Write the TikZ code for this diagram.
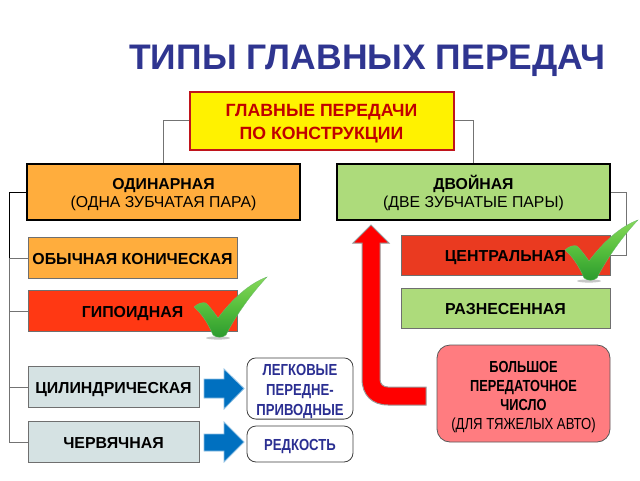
\documentclass[tikz,border=0pt]{standalone}
\usepackage{fontspec}
\setmainfont{Liberation Sans}
\usetikzlibrary{calc}
\definecolor{titleblue}{HTML}{2F3590}
\definecolor{topred}{HTML}{C00000}
\definecolor{topborder}{HTML}{C0141C}
\definecolor{orangeA}{HTML}{FFAD3D}
\definecolor{redA}{HTML}{FF3813}
\definecolor{redB}{HTML}{EA3A20}
\definecolor{greenA}{HTML}{ADDB7B}
\definecolor{steelA}{HTML}{D5E2E3}
\definecolor{pinkA}{HTML}{FF7C80}
\definecolor{navyA}{HTML}{2B2F92}
\definecolor{blueA}{HTML}{0070C0}
\definecolor{edgeA}{HTML}{6F6F6F}
\definecolor{chkTop}{HTML}{86D85A}
\definecolor{chkMid}{HTML}{55BE3C}
\definecolor{chkBot}{HTML}{2B9A2E}
\newcommand{\cnd}[2]{\scalebox{#1}[1]{#2}}
\newcommand{\dn}[1]{\rule{0pt}{#1}}
\newcommand{\low}[2]{\raisebox{-#1}[0pt][0pt]{#2}}
\tikzset{
  x=1pt,y=-1pt,
  boxa/.style={draw=edgeA,line width=1pt,inner sep=0pt,align=center,font=\fontsize{15.9}{18}\selectfont\bfseries,text=black},
  mainbox/.style={draw=black,line width=2.2pt,inner sep=0pt,align=center,font=\fontsize{15.8}{18.5}\selectfont},
  softbox/.style={draw=black!75,line width=.8pt,rounded corners=9pt,inner sep=0pt,align=center,fill=white,text=navyA,font=\fontsize{16}{20}\selectfont\bfseries},
  linkg/.style={draw=black!55,line width=1pt},
  linkb/.style={draw=black,line width=1pt},
  bluearrow/.style={fill=blueA,draw=blueA!45!white,line width=.8pt},
  checkpic/.pic={
    \fill[black!22] (24,31) ellipse (12 and 1.6);
    \shade[top color=chkTop,bottom color=chkBot,middle color=chkMid,draw=chkBot!70!white,line width=.3pt]
      (0,0) .. controls (4,-4) and (9,-5) .. (12,-4) .. controls (16,0) and (20,5) .. (24,11)
      .. controls (38,-8) and (56,-24) .. (73,-30) .. controls (58,-14) and (42,8) .. (32,28)
      .. controls (29,31) and (22,31) .. (19,28) .. controls (14,16) and (7,6) .. (0,0) -- cycle;
  }
}
\begin{document}
\begin{tikzpicture}
\useasboundingbox (0,0) rectangle (640,480);
\fill[white] (0,0) rectangle (640,480);
\node[text=titleblue,font=\fontsize{35.5}{38}\selectfont\bfseries] (title) at (367.5,61) {ТИПЫ ГЛАВНЫХ ПЕРЕДАЧ};

\node[draw=topborder,line width=2pt,fill=yellow,text=topred,minimum width=264pt,minimum height=58pt,inner sep=0pt,align=center,font=\fontsize{17.7}{23}\selectfont\bfseries] (top) at (321.5,120.5) {\dn{19pt}ГЛАВНЫЕ ПЕРЕДАЧИ\\ ПО КОНСТРУКЦИИ};
\node[mainbox,fill=orangeA,minimum width=273pt,minimum height=56pt] (single) at (163.5,192) {\dn{16pt}{\bfseries ОДИНАРНАЯ}\\(ОДНА ЗУБЧАТАЯ ПАРА)};
\node[mainbox,fill=greenA,minimum width=273pt,minimum height=56pt] (double) at (473.5,192) {\dn{16pt}{\bfseries ДВОЙНАЯ}\\(ДВЕ ЗУБЧАТЫЕ ПАРЫ)};
\node[boxa,fill=orangeA,minimum width=209pt,minimum height=41pt] (conic) at (132.5,258) {\low{6.7pt}{ОБЫЧНАЯ КОНИЧЕСКАЯ}};
\node[boxa,fill=redA,minimum width=209pt,minimum height=41pt] (hypoid) at (132.5,311) {\low{6.7pt}{ГИПОИДНАЯ}};
\node[boxa,fill=steelA,minimum width=171pt,minimum height=41pt] (cyl) at (113.5,387) {\low{6pt}{ЦИЛИНДРИЧЕСКАЯ}};
\node[boxa,fill=steelA,minimum width=171pt,minimum height=41pt] (worm) at (113.5,442) {\low{6pt}{ЧЕРВЯЧНАЯ}};
\node[boxa,fill=redB,minimum width=209pt,minimum height=40pt] (central) at (505.5,255) {\low{6.7pt}{ЦЕНТРАЛЬНАЯ}};
\node[boxa,fill=greenA,minimum width=209pt,minimum height=40pt] (spaced) at (505.5,308) {\low{6.7pt}{РАЗНЕСЕННАЯ}};
\node[draw=black!65,line width=.8pt,rounded corners=13pt,fill=pinkA,minimum width=173pt,minimum height=97pt,inner sep=0pt,align=center,font=\fontsize{16}{19.2}\selectfont] (ratio) at (523.5,393.5) {\dn{18pt}\cnd{.8}{\bfseries БОЛЬШОЕ}\\ \cnd{.8}{\bfseries ПЕРЕДАТОЧНОЕ}\\ \cnd{.8}{\bfseries ЧИСЛО}\\ \cnd{.82}{(ДЛЯ ТЯЖЕЛЫХ АВТО)}};
\node[softbox,minimum width=106pt,minimum height=61pt] (light) at (300,388.5) {\dn{18pt}\cnd{.82}{ЛЕГКОВЫЕ}\\ \cnd{.82}{ПЕРЕДНЕ-}\\ \cnd{.82}{ПРИВОДНЫЕ}};
\node[softbox,minimum width=106pt,minimum height=36pt] (rare) at (300,444) {\low{6.7pt}{\cnd{.82}{РЕДКОСТЬ}}};

% connectors
\draw[linkg] (top.west) -| (single.north);
\draw[linkg] (top.east) -| (double.north);
\coordinate (spine) at (9,192);
\draw[linkg] (spine) -- (spine |- worm.west) -- (worm.west);
\draw[linkb] (single.west) -- (spine) -- (spine |- conic.west);
\draw[linkg] (spine |- conic.west) -- (conic.west);
\draw[linkg] (spine |- hypoid.west) -- (hypoid.west);
\draw[linkg] (spine |- cyl.west) -- (cyl.west);
\coordinate (rspine) at (626,192);
\draw[linkg] (double.east) -- (rspine) -- (rspine |- central.east) -- (central.east);

% blue arrows
\path[bluearrow] (204,379) -- (224,379) -- (224,369) -- (244,388.5) -- (224,409) -- (224,398) -- (204,398) -- cycle;
\path[bluearrow] (204,434) -- (224,434) -- (224,422) -- (244,442) -- (224,462) -- (224,451) -- (204,451) -- cycle;

% red arrow
\path[fill=red,draw=black!40,line width=1pt] (371,225) -- (389,243) -- (380,243) -- (380,379)
  .. controls (380,384) and (383,387) .. (388,387) -- (426,387) -- (426,405) -- (388,405)
  .. controls (372,405) and (362,395) .. (362,379) -- (362,243) -- (353,243) -- cycle;

% check marks
\path (565,250) pic {checkpic};
\path (194,307) pic {checkpic};
\end{tikzpicture}
\end{document}
